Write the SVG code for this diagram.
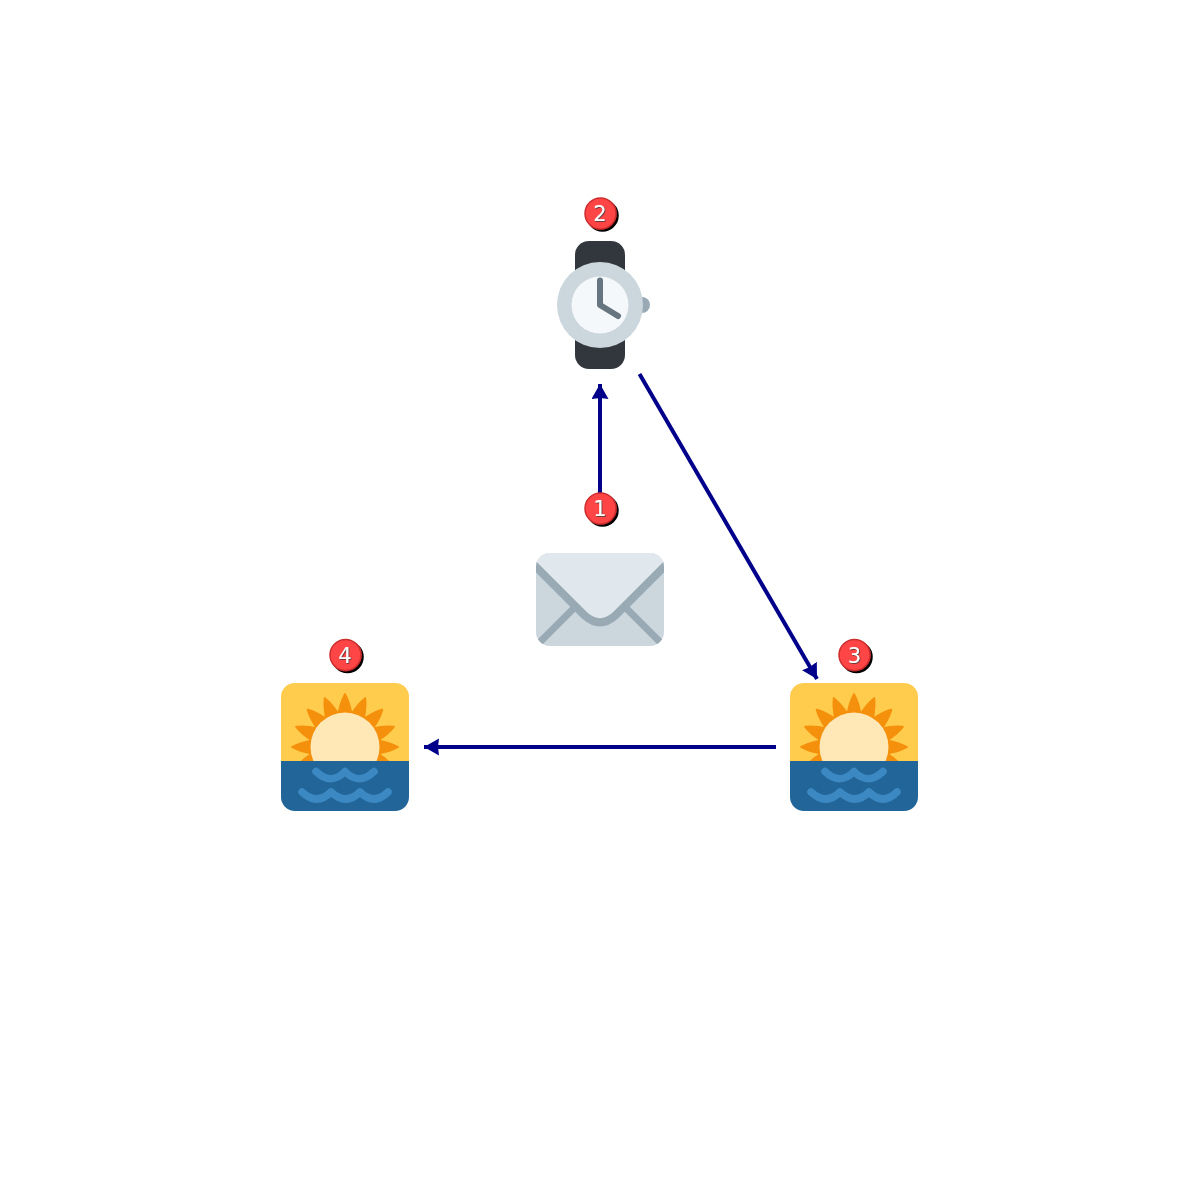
<svg xmlns="http://www.w3.org/2000/svg" width="1200" height="1200" viewBox="0 0 1200 1200">
<style>
.edge{fill:none;stroke:#00008b;stroke-width:4;marker-end:url(#head)}
.disc{fill:#ff4444;stroke:#cc2f2f;stroke-width:1.5;filter:url(#discShadow)}
.num{font-family:"DejaVu Sans",sans-serif;font-size:21px;fill:#fff;text-anchor:middle;filter:url(#numShadow)}
.wave{fill:none;stroke:#3b88c3;stroke-width:7.500;stroke-linecap:round;stroke-linejoin:round}
</style>
<defs>
<marker id="head" markerUnits="userSpaceOnUse" markerWidth="16" markerHeight="18" refX="15" refY="8.500" orient="auto"><path d="M0 0L15 8.500L0 17L1 8.500Z" fill="#00008b"/></marker>
<filter id="discShadow" x="-30%" y="-30%" width="170%" height="170%"><feDropShadow dx="2" dy="2" stdDeviation="0.4" flood-color="#000"/></filter>
<filter id="numShadow" x="-30%" y="-30%" width="170%" height="170%"><feDropShadow dx="0.7" dy="0.7" stdDeviation="0.3" flood-color="#333"/></filter>
<clipPath id="sky"><rect x="0" y="0" width="128" height="78"/></clipPath>
<clipPath id="env"><rect x="536" y="553" width="128" height="93" rx="14"/></clipPath>
<path id="ray" fill="#f4900c" d="M-7.500-33Q-5.500-45-1-53Q0-55 1-53Q5.500-45 7.500-33Z"/>
<symbol id="sunrise" viewBox="0 0 128 128" width="128" height="128">
<path d="M0 78V14A14 14 0 0 1 14 0H114A14 14 0 0 1 128 14V78Z" fill="#ffcc4d"/>
<g clip-path="url(#sky)"><g transform="translate(64 64)">
<use href="#ray"/><use href="#ray" transform="rotate(22.500)"/><use href="#ray" transform="rotate(45)"/><use href="#ray" transform="rotate(67.500)"/><use href="#ray" transform="rotate(90)"/><use href="#ray" transform="rotate(112.500)"/><use href="#ray" transform="rotate(135)"/>
<use href="#ray" transform="rotate(-22.500)"/><use href="#ray" transform="rotate(-45)"/><use href="#ray" transform="rotate(-67.500)"/><use href="#ray" transform="rotate(-90)"/><use href="#ray" transform="rotate(-112.500)"/><use href="#ray" transform="rotate(-135)"/>
<circle r="36.500" fill="#f4900c"/><circle r="34.500" fill="#ffe8b6"/></g></g>
<path d="M0 78H128V114A14 14 0 0 1 114 128H14A14 14 0 0 1 0 114Z" fill="#226699"/>
<path class="wave" d="M35 88.500Q50 103 64 88.500Q78 103 93 88.500"/>
<path class="wave" d="M21 109Q36 123 50 109Q65 123 79 109Q93 123 107 109"/>
</symbol>
</defs>
<g id="connectors">
<path class="edge" d="M600 493V384"/>
<path class="edge" d="M639.500 374L817 679"/>
<path class="edge" d="M776 747H424"/>
</g>
<g id="envelope">
<rect x="536" y="553" width="128" height="93" rx="14" fill="#ccd6dd"/>
<g clip-path="url(#env)">
<path d="M540 642L578 604M660 642L622 604" fill="none" stroke="#99aab5" stroke-width="7"/>
<path d="M536 553H664V566.800L615 615.800Q600 629 585 615.800L536 566.800Z" fill="#e1e8ed"/>
<path d="M532 562.800L585 615.800Q600 629 615 615.800L668 562.800" fill="none" stroke="#99aab5" stroke-width="8"/>
</g>
</g>
<g id="watch">
<rect x="575" y="241" width="50" height="128" rx="14" fill="#31373d"/>
<circle cx="642" cy="305" r="8" fill="#99aab5"/>
<circle cx="600" cy="305" r="43" fill="#ccd6dd"/>
<circle cx="600" cy="305" r="28.500" fill="#f5f8fa"/>
<path d="M600 280.500V305L618 316" fill="none" stroke="#66757f" stroke-width="6" stroke-linecap="round" stroke-linejoin="round"/>
</g>
<g id="sunrise-3"><use href="#sunrise" x="790" y="683"/></g>
<g id="sunrise-4"><use href="#sunrise" x="281" y="683"/></g>
<g id="badge-1"><circle class="disc" cx="600.500" cy="508.500" r="15.500"/><text class="num" x="600" y="516">1</text></g>
<g id="badge-2"><circle class="disc" cx="600.500" cy="213.500" r="15.500"/><text class="num" x="600" y="221">2</text></g>
<g id="badge-3"><circle class="disc" cx="854.500" cy="655" r="15.500"/><text class="num" x="854.500" y="662.500">3</text></g>
<g id="badge-4"><circle class="disc" cx="345.500" cy="655" r="15.500"/><text class="num" x="345" y="662.500">4</text></g>
</svg>
